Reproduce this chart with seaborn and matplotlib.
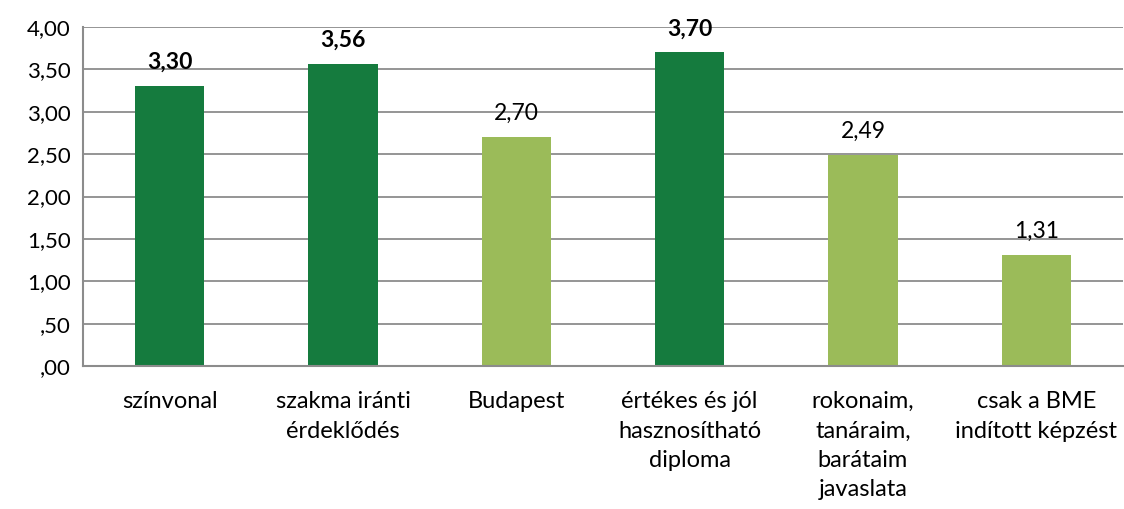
import matplotlib
matplotlib.use("Agg")
import matplotlib.pyplot as plt
import seaborn as sns
import pandas as pd

categories = ["színvonal", "szakma iránti\nérdeklődés", "Budapest",
              "értékes és jól\nhasznosítható\ndiploma", "rokonaim,\ntanáraim,\nbarátaim\njavaslata",
              "csak a BME\nindított képzést"]
values = [3.30, 3.56, 2.70, 3.70, 2.49, 1.31]
groups = ["dark", "dark", "light", "dark", "light", "light"]
value_labels = ["3,30", "3,56", "2,70", "3,70", "2,49", "1,31"]
ytick_values = [0.0, 0.5, 1.0, 1.5, 2.0, 2.5, 3.0, 3.5, 4.0]
ytick_labels = [",00", ",50", "1,00", "1,50", "2,00", "2,50", "3,00", "3,50", "4,00"]

sns.set_theme(style="white")
plt.rcParams['font.family'] = ['Lato', 'DejaVu Sans']

df = pd.DataFrame({"cat": categories, "val": values, "grp": groups})
palette = {"dark": "#157B3E", "light": "#9BBB59"}

fig = plt.figure(figsize=(11.24, 5.09), dpi=100)
ax = fig.add_axes([83/1124, 143/509, 1040/1124, 339/509])
sns.barplot(data=df, x="cat", y="val", hue="grp", palette=palette, dodge=False,
            width=0.4, legend=False, ax=ax, saturation=1, linewidth=0)

ax.set_ylim(0, 4)
ax.set_xlim(-0.5, len(categories) - 0.5)
ax.set_yticks(ytick_values)
ax.set_yticklabels(ytick_labels, fontsize=16, color="black")
ax.set_xticks(range(len(categories)))
ax.set_xticklabels(categories, fontsize=17, color="black", linespacing=1.5, va="top")
ax.tick_params(axis="x", length=0, pad=18)
ax.tick_params(axis="y", length=0, pad=9)
ax.set_xlabel("")
ax.set_ylabel("")
ax.yaxis.grid(True, color="#8C8C8C", linewidth=1.3)
ax.set_axisbelow(True)
for s in ["top", "right"]:
    ax.spines[s].set_visible(False)
for s in ["left", "bottom"]:
    ax.spines[s].set_color("#8C8C8C")
    ax.spines[s].set_linewidth(1.5)

for i, (v, lab, g) in enumerate(zip(values, value_labels, groups)):
    ax.annotate(lab, (i, v), xytext=(0, 9.5), textcoords="offset points",
                ha="center", va="bottom", fontsize=16.5,
                fontweight="bold" if g == "dark" else "normal", color="black")

fig.savefig("out.png", dpi=100)
